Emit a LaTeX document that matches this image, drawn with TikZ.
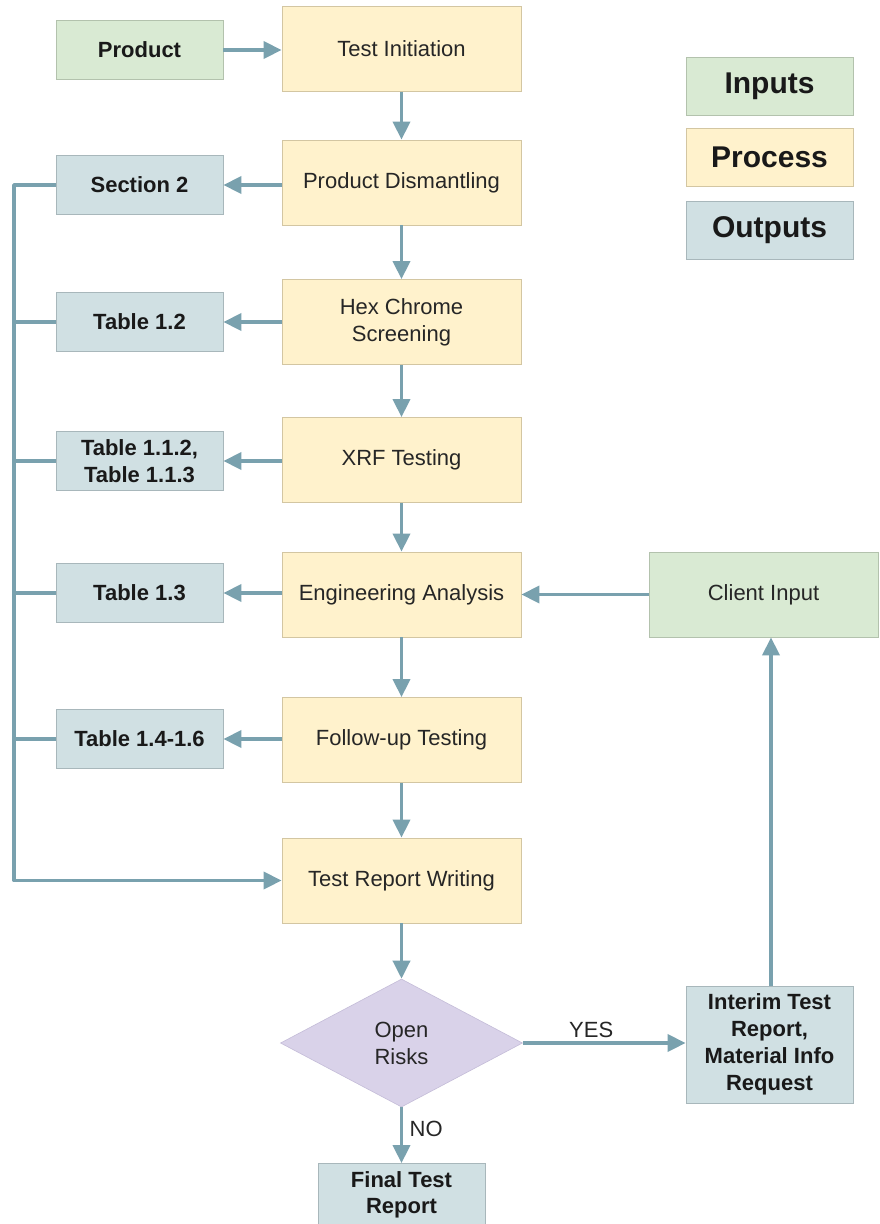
\documentclass[tikz,border=0pt]{standalone}
\usepackage{fontspec}
\setmainfont{Liberation Sans}
\usetikzlibrary{arrows.meta,shapes.geometric}

\definecolor{inputfill}{HTML}{D9EAD3}
\definecolor{inputline}{HTML}{B3C2AD}
\definecolor{procfill}{HTML}{FFF2CC}
\definecolor{procline}{HTML}{D3C6A2}
\definecolor{outfill}{HTML}{D0E0E3}
\definecolor{outline}{HTML}{A8B7BB}
\definecolor{decfill}{HTML}{D9D2E9}
\definecolor{decline}{HTML}{C4BCD8}
\definecolor{flow}{HTML}{79A1AE}
\definecolor{textdark}{HTML}{262626}

\begin{document}
\begin{tikzpicture}[x=1pt,y=-1pt,
  box/.style={rectangle, line width=0.8pt, align=center, inner sep=2pt, text=textdark},
  regtext/.style={font=\fontsize{22}{27}\selectfont},
  boldtext/.style={font=\bfseries\fontsize{22}{26.5}\selectfont, text=black!90},
  inbox/.style={box, fill=inputfill, draw=inputline},
  procbox/.style={box, regtext, fill=procfill, draw=procline,
    minimum width=239pt, minimum height=85pt},
  outbox/.style={box, boldtext, fill=outfill, draw=outline,
    minimum width=167pt, minimum height=59pt},
  legendbox/.style={box, font=\bfseries\fontsize{30}{36}\selectfont, text=black!90,
    minimum width=167pt, minimum height=58pt},
  decision/.style={diamond, regtext, align=center, fill=decfill, draw=decline,
    line width=0.6pt, inner sep=0pt, minimum width=242pt, minimum height=128pt,
    text=textdark},
  arr/.style={draw=flow, line width=3.6pt, line join=round,
    -{Triangle[length=18pt,width=17pt]}},
  link/.style={draw=flow, line width=3.6pt},
  edgelabel/.style={regtext, text=textdark}
]
\useasboundingbox[fill=white] (0,0) rectangle (879,1224);

% main process column
\node[procbox] (init)   at (401.5,49)    {Test Initiation};
\node[procbox] (dism)   at (401.5,182.5) {Product Dismantling};
\node[procbox] (hex)    at (401.5,322)   {Hex Chrome\\Screening};
\node[procbox] (xrf)    at (401.5,460)   {XRF Testing};
\node[procbox] (eng)    at (401.5,594.5) {Engineering Analysis};
\node[procbox] (follow) at (401.5,740)   {Follow-up Testing};
\node[procbox] (report) at (401.5,880.5) {Test Report Writing};

% inputs
\node[inbox, boldtext, minimum width=167pt, minimum height=59pt]
  (product) at (139.5,50) {Product};
\node[inbox, regtext, minimum width=229pt, minimum height=85pt]
  (client) at (763.5,594.5) {Client Input};

% outputs
\node[outbox] (sec2) at (139.5,185) {Section 2};
\node[outbox] (t12)  at (139.5,322)   {Table 1.2};
\node[outbox] (t112) at (139.5,461)   {Table 1.1.2,\\Table 1.1.3};
\node[outbox] (t13)  at (139.5,593)   {Table 1.3};
\node[outbox] (t146) at (139.5,739)   {Table 1.4-1.6};

% decision and its results
\node[decision] (risk) at (401.5,1043) {Open\\Risks};
\node[outbox, minimum height=117pt, font=\bfseries\fontsize{22}{27}\selectfont]
  (interim) at (769.5,1044.5) {Interim Test\\Report,\\Material Info\\Request};
\node[outbox, minimum height=63pt] (final) at (401.5,1195) {Final Test\\Report};

% legend
\node[legendbox, fill=inputfill, draw=inputline] (leg1) at (769.5,86)    {Inputs};
\node[legendbox, fill=procfill,  draw=procline]  (leg2) at (769.5,157.5) {Process};
\node[legendbox, fill=outfill,   draw=outline]   (leg3) at (769.5,230)   {Outputs};

% flow down the process column
\draw[arr] (product.east) -- (product.east -| init.west);
\draw[arr] (init) -- (dism);
\draw[arr] (dism) -- (hex);
\draw[arr] (hex) -- (xrf);
\draw[arr] (xrf) -- (eng);
\draw[arr] (eng) -- (follow);
\draw[arr] (follow) -- (report);
\draw[arr] (report) -- (risk);

% process steps feeding their outputs
\draw[arr] (dism.west |- sec2) -- (sec2.east);
\draw[arr] (hex.west |- t12) -- (t12.east);
\draw[arr] (xrf.west |- t112) -- (t112.east);
\draw[arr] (eng.west |- t13) -- (t13.east);
\draw[arr] (follow.west |- t146) -- (t146.east);

% collecting bus on the left into the report
\coordinate (bus) at (14,880.5);
\draw[arr] (sec2.west) -| (bus) -- (report.west);
\draw[link] (t12.west) -- (t12.west -| bus);
\draw[link] (t112.west) -- (t112.west -| bus);
\draw[link] (t13.west) -- (t13.west -| bus);
\draw[link] (t146.west) -- (t146.west -| bus);

% client feedback loop
\draw[arr] (client.west) -- (eng.east);
\draw[arr] (risk.east) -- node[edgelabel, above, pos=0.42] {YES} (risk.east -| interim.west);
\draw[arr] ([xshift=1.5pt]interim.north) -- ([xshift=1.5pt]interim.north |- client.south);
\draw[arr] (risk.south) -- node[edgelabel, right=3pt, pos=0.38] {NO} (final.north);
\end{tikzpicture}
\end{document}
